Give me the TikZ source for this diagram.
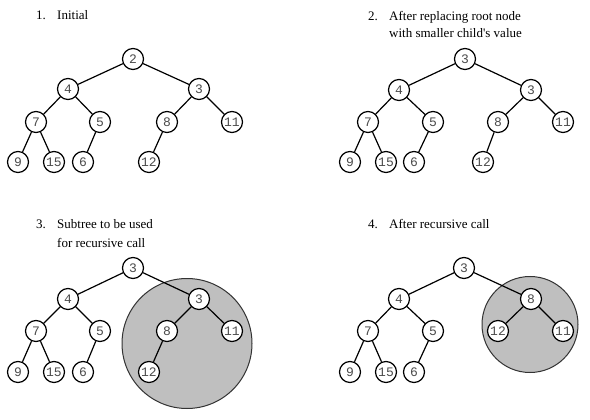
\documentclass[tikz,border=0pt]{standalone}
\usepackage{fontspec}
\setmainfont{Liberation Serif}
\newfontfamily\numfont{Liberation Mono}
\begin{document}
\begin{tikzpicture}[x=1pt,y=-1pt,
  hn/.style={circle,draw=black,line width=1.2pt,fill=white,minimum size=21pt,inner sep=0pt,
    font=\numfont\fontsize{13}{13}\selectfont,text=black!70},
  ln/.style={line width=1.2pt},
  big/.style={circle,draw=black!80,line width=1pt,fill=black!25,inner sep=0pt},
  ttl/.style={anchor=base west,inner sep=0pt,font=\fontsize{13}{14}\selectfont}]
\useasboundingbox (0,0) rectangle (590,420);
% titles
\node[ttl] (t1n) at (36,20) {1.};
\node[ttl] (t1a) at (57,20) {Initial};
\node[ttl] (t2n) at (368,21) {2.};
\node[ttl] (t2a) at (389,21) {After replacing root node};
\node[ttl] (t2b) at (389,38) {with smaller child\textquotesingle s value};
\node[ttl] (t3n) at (36,229) {3.};
\node[ttl] (t3a) at (57,229) {Subtree to be used};
\node[ttl] (t3b) at (57,247) {for recursive call};
\node[ttl] (t4n) at (368,229) {4.};
\node[ttl] (t4a) at (389,229) {After recursive call};
% panel 1
\node[hn] (a1) at (133,59) {2};
\node[hn] (a2) at (68,89) {4};
\node[hn] (a3) at (199,89) {3};
\node[hn] (a4) at (36,122) {7};
\node[hn] (a5) at (100,122) {5};
\node[hn] (a6) at (167,122) {8};
\node[hn] (a7) at (232,122) {11};
\node[hn] (a8) at (18,162) {9};
\node[hn] (a9) at (54,162) {15};
\node[hn] (a10) at (83,162) {6};
\node[hn] (a12) at (149,162) {12};
\draw[ln] (a1)--(a2) (a1)--(a3) (a2)--(a4) (a2)--(a5) (a3)--(a6) (a3)--(a7)
  (a4)--(a8) (a4)--(a9) (a5)--(a10) (a6)--(a12);
% panel 2
\node[hn] (b1) at (465,59) {3};
\node[hn] (b2) at (399,90) {4};
\node[hn] (b3) at (531,90) {3};
\node[hn] (b4) at (368,122) {7};
\node[hn] (b5) at (433,122) {5};
\node[hn] (b6) at (498,122) {8};
\node[hn] (b7) at (563,122) {11};
\node[hn] (b8) at (350,162) {9};
\node[hn] (b9) at (386,162) {15};
\node[hn] (b10) at (414,162) {6};
\node[hn] (b12) at (483,162) {12};
\draw[ln] (b1)--(b2) (b1)--(b3) (b2)--(b4) (b2)--(b5) (b3)--(b6) (b3)--(b7)
  (b4)--(b8) (b4)--(b9) (b5)--(b10) (b6)--(b12);
% panel 3
\node[big,minimum size=130pt] (c0) at (187,343.5) {};
\node[hn] (c1) at (133,268) {3};
\node[hn] (c2) at (68,299) {4};
\node[hn] (c3) at (199,299) {3};
\node[hn] (c4) at (36,331) {7};
\node[hn] (c5) at (100,331) {5};
\node[hn] (c6) at (167,331) {8};
\node[hn] (c7) at (232,331) {11};
\node[hn] (c8) at (18,372) {9};
\node[hn] (c9) at (54,372) {15};
\node[hn] (c10) at (83,372) {6};
\node[hn] (c12) at (149,372) {12};
\draw[ln] (c1)--(c2) (c1)--(c3) (c2)--(c4) (c2)--(c5) (c3)--(c6) (c3)--(c7)
  (c4)--(c8) (c4)--(c9) (c5)--(c10) (c6)--(c12);
% panel 4
\node[big,minimum size=96pt] (d0) at (530,324.5) {};
\node[hn] (d1) at (464,268) {3};
\node[hn] (d2) at (399,299) {4};
\node[hn] (d3) at (531,299) {8};
\node[hn] (d4) at (368,331) {7};
\node[hn] (d5) at (433,331) {5};
\node[hn] (d6) at (498,331) {12};
\node[hn] (d7) at (563,331) {11};
\node[hn] (d8) at (350,372) {9};
\node[hn] (d9) at (386,372) {15};
\node[hn] (d10) at (414,372) {6};
\draw[ln] (d1)--(d2) (d1)--(d3) (d2)--(d4) (d2)--(d5) (d3)--(d6) (d3)--(d7)
  (d4)--(d8) (d4)--(d9) (d5)--(d10);
\end{tikzpicture}
\end{document}
